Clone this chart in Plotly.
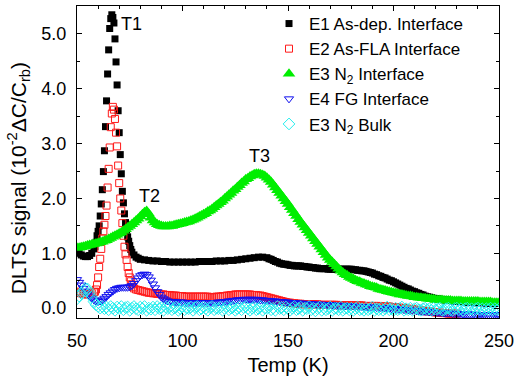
import plotly.graph_objects as go

# ---------------- data ----------------
# E1 As-dep. Interface (black filled squares)
e1_T = ([50, 51, 52, 53, 54, 55, 56, 57, 58]
        + [58.5, 59, 59.5, 60, 60.5, 61, 61.5, 62, 62.5, 63, 63.5, 64, 64.5, 65, 65.5, 66, 66.5,
           67, 67.5, 68, 68.5, 69, 69.5, 70, 70.5, 71, 71.5, 72, 72.5, 73, 73.5, 74, 74.5, 75, 75.5, 76]
        + list(range(77, 81)) + list(range(82, 140, 2)) + list(range(140, 251)))
e1_v = ([1.02, 1.0, 0.97, 0.95, 0.94, 0.94, 0.96, 1.0, 1.08,
         1.12, 1.2, 1.32, 1.4, 1.5, 1.68, 1.9, 2.16, 2.49, 2.87, 3.31, 3.78, 4.27, 4.71, 5.1, 5.28, 5.35,
         5.3, 5.2, 4.91, 4.49, 4.07, 3.6, 3.2, 2.8, 2.45, 2.13, 1.92, 1.72, 1.56, 1.42, 1.3, 1.22, 1.14, 1.07, 1.02,
         0.97, 0.93, 0.91, 0.89,
         0.88, 0.87, 0.86, 0.86, 0.85, 0.85, 0.84, 0.84, 0.84, 0.84,
         0.84, 0.84, 0.84, 0.85, 0.85, 0.85, 0.85, 0.86, 0.86, 0.86,
         0.87, 0.87, 0.88, 0.89, 0.9, 0.91, 0.92, 0.93, 0.93,
         0.92, 0.9, 0.89, 0.87, 0.85, 0.84, 0.82, 0.81, 0.8, 0.8,
         0.79, 0.78, 0.78, 0.77, 0.77, 0.77, 0.77, 0.76, 0.76, 0.75,
         0.75, 0.74, 0.74, 0.73, 0.73, 0.72, 0.72, 0.72, 0.72, 0.71,
         0.71, 0.71, 0.71, 0.71, 0.71, 0.71, 0.71, 0.71, 0.71, 0.71,
         0.71, 0.7, 0.7, 0.69, 0.69, 0.68, 0.68, 0.67, 0.66, 0.65,
         0.64, 0.62, 0.61, 0.59, 0.58, 0.56, 0.55, 0.53, 0.51, 0.5,
         0.48, 0.46, 0.44, 0.42, 0.4, 0.38, 0.36, 0.35, 0.33, 0.31,
         0.3, 0.28, 0.27, 0.25, 0.24, 0.22, 0.21, 0.2, 0.19, 0.18,
         0.17, 0.17, 0.16, 0.16, 0.15, 0.15, 0.14, 0.14, 0.13, 0.13,
         0.12, 0.12, 0.12, 0.12, 0.11, 0.11, 0.11, 0.11, 0.1, 0.1,
         0.1, 0.1, 0.1, 0.1, 0.09, 0.09, 0.09, 0.09, 0.09, 0.09, 0.09])

# E2 As-FLA Interface (red open squares)
e2_T = ([50, 51, 52, 53, 54, 55, 56, 57, 58]
        + [58.5, 59, 59.5, 60, 60.5, 61, 61.5, 62, 62.5, 63, 63.5, 64, 64.5, 65, 65.5, 66, 66.5,
           67, 67.5, 68, 68.5, 69, 69.5, 70, 70.5, 71, 71.5, 72, 72.5, 73, 73.5, 74, 74.5, 75, 75.5, 76,
           76.5, 77]
        + list(range(78, 251)))
e2_v = ([0.3, 0.28, 0.27, 0.26, 0.25, 0.25, 0.26, 0.27, 0.29,
         0.3, 0.34, 0.42, 0.56, 0.75, 0.9, 1.08, 1.27, 1.4, 1.52, 1.68, 1.87, 2.2, 2.54, 2.93, 3.3, 3.55,
         3.67, 3.62, 3.45, 3.2, 2.95, 2.6, 2.28, 2.0, 1.78, 1.55, 1.32, 1.12, 0.98, 0.88, 0.75, 0.64, 0.56, 0.49, 0.43,
         0.39, 0.36,
         0.34, 0.33, 0.32, 0.31, 0.3, 0.29, 0.28, 0.28, 0.27, 0.27,
         0.26, 0.26, 0.25, 0.25, 0.24, 0.24, 0.24, 0.23, 0.23, 0.23,
         0.22, 0.22, 0.22, 0.21, 0.21, 0.21, 0.21, 0.21, 0.21, 0.21,
         0.21, 0.21, 0.21, 0.21, 0.21, 0.2, 0.2, 0.2, 0.21, 0.21,
         0.21, 0.22, 0.22, 0.23, 0.23, 0.24, 0.24, 0.25, 0.25, 0.25,
         0.25, 0.25, 0.25, 0.25, 0.25, 0.24, 0.24, 0.24, 0.23, 0.23,
         0.22, 0.21, 0.2, 0.19, 0.18, 0.17, 0.16, 0.15, 0.14, 0.13,
         0.12, 0.11, 0.1, 0.1, 0.09, 0.09, 0.08, 0.08, 0.08, 0.07,
         0.07, 0.07, 0.07, 0.07, 0.07, 0.07, 0.07, 0.06, 0.06, 0.06,
         0.06, 0.06, 0.06, 0.06, 0.06, 0.06, 0.05, 0.05, 0.05, 0.05,
         0.05, 0.05, 0.05, 0.05, 0.05, 0.05, 0.05, 0.05, 0.04, 0.04,
         0.04, 0.04, 0.04, 0.04, 0.04, 0.04, 0.03, 0.03, 0.03, 0.03,
         0.03, 0.02, 0.02, 0.02, 0.01, 0.01, 0.0, 0.0, -0.01, -0.01,
         -0.02, -0.02, -0.03, -0.03, -0.04, -0.04, -0.05, -0.05, -0.06, -0.06,
         -0.07, -0.07, -0.08, -0.08, -0.08, -0.09, -0.09, -0.09, -0.1, -0.1,
         -0.1, -0.1, -0.1])

# E3 N2 Interface (green filled triangles)
e3_T = list(range(50, 251))
e3_v = [1.1, 1.1, 1.11, 1.12, 1.13, 1.14, 1.15, 1.16, 1.17, 1.18,
        1.19, 1.2, 1.21, 1.23, 1.24, 1.26, 1.28, 1.3, 1.32, 1.34,
        1.36, 1.38, 1.41, 1.44, 1.47, 1.5, 1.53, 1.56, 1.6, 1.63,
        1.67, 1.71, 1.75, 1.77, 1.72, 1.65, 1.6, 1.56, 1.53, 1.51,
        1.5, 1.49, 1.49, 1.49, 1.5, 1.5, 1.51, 1.52, 1.53, 1.54,
        1.55, 1.56, 1.57, 1.58, 1.6, 1.61, 1.63, 1.65, 1.67, 1.69,
        1.71, 1.73, 1.76, 1.78, 1.81, 1.84, 1.87, 1.9, 1.93, 1.96,
        2.0, 2.03, 2.07, 2.1, 2.14, 2.17, 2.21, 2.24, 2.28, 2.31,
        2.35, 2.37, 2.4, 2.42, 2.44, 2.45, 2.45, 2.44, 2.43, 2.41,
        2.38, 2.34, 2.3, 2.25, 2.2, 2.15, 2.1, 2.05, 2.0, 1.95,
        1.9, 1.84, 1.79, 1.73, 1.68, 1.62, 1.57, 1.52, 1.47, 1.42,
        1.37, 1.32, 1.27, 1.22, 1.17, 1.12, 1.07, 1.02, 0.97, 0.92,
        0.88, 0.84, 0.8, 0.76, 0.72, 0.68, 0.65, 0.62, 0.6, 0.57,
        0.55, 0.53, 0.51, 0.49, 0.48, 0.46, 0.45, 0.43, 0.42, 0.4,
        0.39, 0.38, 0.37, 0.35, 0.34, 0.33, 0.32, 0.31, 0.3, 0.29,
        0.28, 0.27, 0.26, 0.25, 0.25, 0.24, 0.23, 0.22, 0.22, 0.21,
        0.2, 0.2, 0.19, 0.19, 0.18, 0.18, 0.17, 0.17, 0.16, 0.16,
        0.15, 0.15, 0.15, 0.15, 0.14, 0.14, 0.14, 0.14, 0.13, 0.13,
        0.13, 0.13, 0.13, 0.12, 0.12, 0.12, 0.12, 0.12, 0.12, 0.12,
        0.12, 0.11, 0.11, 0.11, 0.11, 0.11, 0.11, 0.1, 0.1, 0.1,
        0.1]

# E4 FG Interface (blue open down-triangles)
e4_T = list(range(50, 251))
e4_v = [0.52, 0.47, 0.42, 0.36, 0.31, 0.26, 0.22, 0.18, 0.15, 0.13,
        0.12, 0.13, 0.15, 0.18, 0.21, 0.25, 0.28, 0.31, 0.34, 0.36,
        0.37, 0.38, 0.38, 0.38, 0.38, 0.39, 0.41, 0.45, 0.5, 0.55,
        0.59, 0.61, 0.62, 0.61, 0.57, 0.51, 0.44, 0.37, 0.3, 0.25,
        0.2, 0.17, 0.15, 0.13, 0.12, 0.12, 0.11, 0.11, 0.11, 0.11,
        0.11, 0.1, 0.1, 0.1, 0.1, 0.1, 0.1, 0.1, 0.1, 0.1,
        0.1, 0.1, 0.1, 0.1, 0.1, 0.1, 0.1, 0.11, 0.11, 0.11,
        0.12, 0.12, 0.13, 0.13, 0.14, 0.14, 0.15, 0.15, 0.15, 0.16,
        0.16, 0.16, 0.16, 0.16, 0.16, 0.16, 0.15, 0.15, 0.15, 0.14,
        0.14, 0.14, 0.13, 0.13, 0.13, 0.12, 0.12, 0.12, 0.11, 0.11,
        0.11, 0.1, 0.1, 0.1, 0.09, 0.09, 0.09, 0.09, 0.08, 0.08,
        0.08, 0.08, 0.07, 0.07, 0.07, 0.07, 0.07, 0.06, 0.06, 0.06,
        0.06, 0.06, 0.05, 0.05, 0.05, 0.05, 0.05, 0.04, 0.04, 0.04,
        0.04, 0.04, 0.03, 0.03, 0.03, 0.03, 0.03, 0.02, 0.02, 0.02,
        0.02, 0.02, 0.01, 0.01, 0.01, 0.01, 0.0, 0.0, 0.0, -0.01,
        -0.01, -0.01, -0.02, -0.02, -0.02, -0.03, -0.03, -0.03, -0.04, -0.04,
        -0.04, -0.05, -0.05, -0.05, -0.06, -0.06, -0.06, -0.07, -0.07, -0.07,
        -0.08, -0.08, -0.08, -0.08, -0.09, -0.09, -0.09, -0.09, -0.1, -0.1,
        -0.1, -0.1, -0.1, -0.11, -0.11, -0.11, -0.11, -0.11, -0.11, -0.12,
        -0.12, -0.12, -0.12, -0.12, -0.12, -0.12, -0.12, -0.12, -0.12, -0.12,
        -0.12]

# E3 N2 Bulk (cyan open diamonds)
bulk_T = list(range(50, 251))
bulk_v = [0.17, 0.22, 0.27, 0.32, 0.36, 0.35, 0.28, 0.2, 0.12, 0.06,
          0.03, 0.0, 0.03, -0.01, 0.02, -0.03, 0.03, 0.0, -0.04, 0.02,
          -0.01, 0.03, -0.03, 0.01, 0.02, -0.04, 0.0, 0.03, -0.01, -0.03,
          0.02, -0.01, 0.03, -0.04, 0.0, -0.02, 0.02, -0.03, 0.03, -0.01,
          0.01, -0.04, 0.02, -0.01, 0.03, -0.03, 0.0, 0.02, -0.04, -0.01,
          0.03, -0.03, 0.0, -0.01, 0.02, -0.04, 0.01, 0.03, -0.03, -0.01,
          0.02, -0.01, -0.04, 0.01, 0.03, -0.03, 0.0, -0.01, 0.02, -0.04,
          -0.01, 0.03, -0.03, 0.0, 0.02, -0.04, -0.01, 0.02, -0.03, 0.01,
          0.03, -0.01, -0.04, 0.0, 0.02, -0.03, -0.01, 0.03, -0.04, 0.0,
          -0.01, 0.02, -0.03, 0.0, -0.04, 0.03, -0.01, 0.01, -0.03, 0.02,
          -0.01, -0.04, 0.0, 0.03, -0.03, -0.01, 0.02, -0.04, 0.0, -0.01,
          0.03, -0.03, 0.0, -0.05, -0.01, 0.02, -0.04, 0.0, -0.03, -0.01,
          0.02, -0.04, -0.01, 0.0, -0.03, 0.02, -0.04, -0.01, 0.0, -0.03,
          0.0, -0.04, -0.01, 0.02, -0.03, -0.01, -0.04, 0.0, -0.03, -0.01,
          0.02, -0.04, -0.01, -0.03, 0.0, -0.04, -0.01, 0.02, -0.03, -0.01,
          -0.04, 0.0, -0.03, -0.01, 0.02, -0.04, -0.01, -0.03, 0.0, -0.04,
          -0.01, 0.0, -0.03, -0.04, -0.01, 0.0, -0.03, -0.01, -0.04, 0.0,
          -0.03, -0.01, 0.0, -0.04, -0.03, -0.01, 0.0, -0.03, -0.04, -0.01,
          0.0, -0.03, -0.01, -0.04, -0.01, 0.0, -0.03, -0.01, -0.04, -0.01,
          0.0, -0.03, -0.01, -0.04, -0.01, -0.03, 0.0, -0.04, -0.01, -0.03,
          -0.01]

legend_names = ["E1 As-dep. Interface", "E2 As-FLA Interface", "E3 N<sub>2</sub> Interface",
                "E4 FG Interface", "E3 N<sub>2</sub> Bulk"]

peak_labels = ["T1", "T2", "T3"]
peak_T = [75.9, 84.4, 136.6]
peak_v = [5.18, 2.05, 2.78]

FONT = "Arial, Liberation Sans, sans-serif"

fig = go.Figure()
fig.add_trace(go.Scatter(x=e1_T, y=e1_v, mode="markers", name=legend_names[0],
                         marker=dict(symbol="square", size=7, color="black", line=dict(width=0))))
fig.add_trace(go.Scatter(x=e2_T, y=e2_v, mode="markers", name=legend_names[1],
                         marker=dict(symbol="square-open", size=7, color="#ff1a1a", line=dict(width=1))))
fig.add_trace(go.Scatter(x=e3_T, y=e3_v, mode="markers", name=legend_names[2],
                         marker=dict(symbol="triangle-up", size=11, color="#00ee00", line=dict(width=0))))
fig.add_trace(go.Scatter(x=e4_T, y=e4_v, mode="markers", name=legend_names[3],
                         marker=dict(symbol="triangle-down-open", size=8, color="#1010ee", line=dict(width=1))))
fig.add_trace(go.Scatter(x=bulk_T, y=bulk_v, mode="markers", name=legend_names[4],
                         marker=dict(symbol="diamond-open", size=9, color="#22eeee", line=dict(width=1))))

for lab, tx, ty in zip(peak_labels, peak_T, peak_v):
    fig.add_annotation(x=tx, y=ty, text=lab, showarrow=False,
                       font=dict(family=FONT, size=18, color="black"))

# y-axis title (placed as rotated text, slightly below the axis centre as in the original)
fig.add_annotation(xref="paper", yref="paper", x=-0.138, y=0.447, xanchor="center", yanchor="middle",
                   text="DLTS signal (10<sup>-2</sup>ΔC/C<sub>rb</sub>)", textangle=-90, showarrow=False,
                   font=dict(family=FONT, size=21, color="black"))

axis_common = dict(showline=True, linecolor="black", linewidth=1, mirror="allticks",
                   ticks="inside", ticklen=5, tickcolor="black", showgrid=False, zeroline=False,
                   tickfont=dict(family=FONT, size=18, color="black"))

fig.update_xaxes(range=[50, 250], dtick=50, tick0=50, ticklabelstandoff=6,
                 minor=dict(ticks="inside", dtick=10, ticklen=3, tickcolor="black"),
                 title=dict(text="Temp (K)", font=dict(family=FONT, size=20, color="black"), standoff=8),
                 **axis_common)
fig.update_yaxes(range=[-0.18, 5.51], dtick=1, tick0=0, tickformat=".1f", ticklabelstandoff=6,
                 minor=dict(ticks="inside", dtick=0.5, ticklen=3, tickcolor="black"),
                 **axis_common)

fig.update_layout(
    width=519, height=384,
    margin=dict(l=77, r=16, t=5, b=66),
    paper_bgcolor="white", plot_bgcolor="white",
    showlegend=True,
    legend=dict(x=0.455, y=1.0, xanchor="left", yanchor="top", bgcolor="rgba(0,0,0,0)",
                font=dict(family=FONT, size=17, color="black"), tracegroupgap=0,
                itemwidth=30),
)

fig.write_html("out.html", post_script="document.body.style.margin='0';",
               config={"displayModeBar": False})
